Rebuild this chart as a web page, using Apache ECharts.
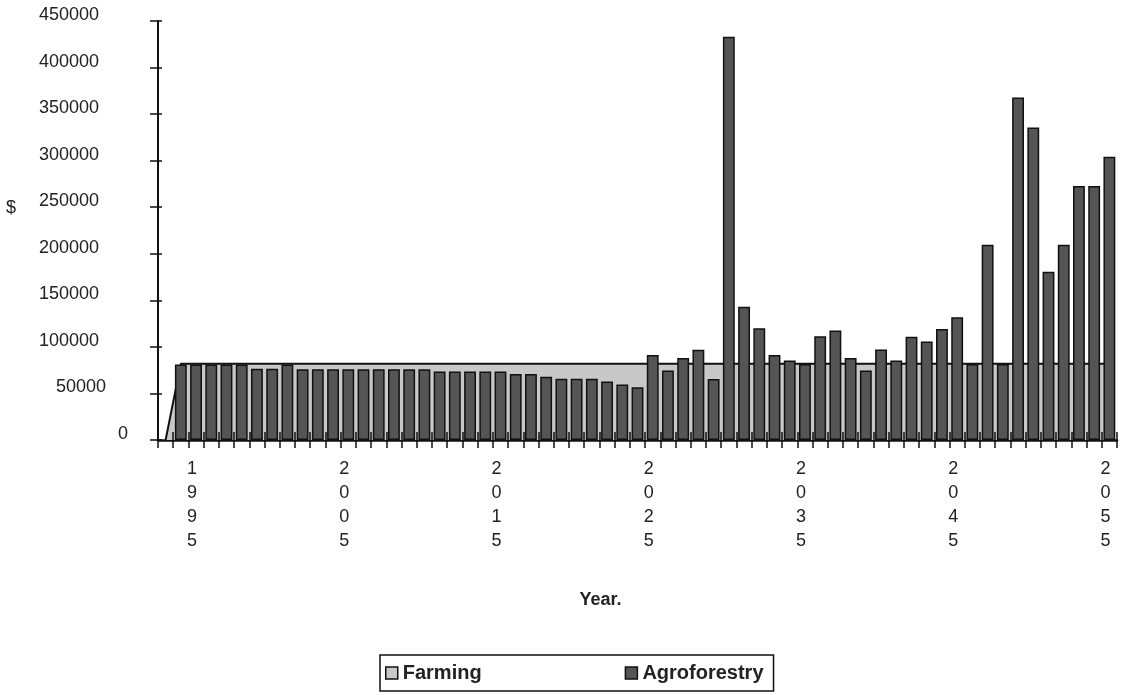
<!DOCTYPE html>
<html><head><meta charset="utf-8">
<script src="https://cdn.jsdelivr.net/npm/echarts@6/dist/echarts.min.js"></script>
<style>html,body{margin:0;padding:0;background:#fff}#c{width:1129px;height:695px}</style>
</head><body><div id="c"></div>
<script>
const years = ['1993','1994','1995','1996','1997','1998','1999','2000','2001','2002','2003','2004','2005','2006','2007','2008','2009','2010','2011','2012','2013','2014','2015','2016','2017','2018','2019','2020','2021','2022','2023','2024','2025','2026','2027','2028','2029','2030','2031','2032','2033','2034','2035','2036','2037','2038','2039','2040','2041','2042','2043','2044','2045','2046','2047','2048','2049','2050','2051','2052','2053','2054','2055'];

const farming = [0,82000,82000,82000,82000,82000,82000,82000,82000,82000,82000,82000,82000,82000,82000,82000,82000,82000,82000,82000,82000,82000,82000,82000,82000,82000,82000,82000,82000,82000,82000,82000,82000,82000,82000,82000,82000,82000,82000,82000,82000,82000,82000,82000,82000,82000,82000,82000,82000,82000,82000,82000,82000,82000,82000,82000,82000,82000,82000,82000,82000,82000,82000];

const agroforestry = [null,81000,81000,81000,81000,81000,76500,76500,81000,76000,76000,76000,76000,76000,76000,76000,76000,76000,73500,73500,73500,73500,73500,71000,71000,68000,65700,65700,65700,62800,59500,56700,
91400,74600,88200,96800,65600,433000,143200,120000,91400,85300,81700,111400,117500,88200,74600,97100,85300,111000,105700,119300,131800,81700,209800,81700,367800,335600,180800,209800,272700,272700,304200];

const yTicks = ['0','50000','100000','150000','200000','250000','300000','350000','400000','450000'];

const chart = echarts.init(document.getElementById('c'));
const FONT = 'Liberation Sans, Arial, sans-serif';
chart.setOption({
  animation: false,
  backgroundColor: '#fff',
  grid: { left: 158, right: 12, top: 21, bottom: 255 },
  graphic: [{ type: 'text', left: 6, top: 199, style: { text: '$', font: '18px ' + FONT, fill: '#222' } }],
  legend: {
    left: 380, top: 655,
    orient: 'horizontal',
    borderColor: '#111', borderWidth: 1.5,
    padding: [8, 10, 8, 5],
    itemWidth: 12, itemHeight: 12, itemGap: 143,
    textStyle: { fontFamily: FONT, fontWeight: 'bold', fontSize: 20, color: '#222' },
    data: [
      { name: 'Farming', icon: 'rect', itemStyle: { color: '#c8c8c8', borderColor: '#111', borderWidth: 1.5 } },
      { name: 'Agroforestry', icon: 'rect', itemStyle: { color: '#555', borderColor: '#111', borderWidth: 1.5 } }
    ]
  },
  xAxis: [{
    type: 'category', data: years, boundaryGap: true,
    name: 'Year.', nameLocation: 'middle', nameGap: 151,
    nameTextStyle: { fontFamily: FONT, fontWeight: 'bold', fontSize: 18, color: '#222', padding: [0, 74, 0, 0] },
    axisLine: { lineStyle: { color: '#111', width: 2.5 } },
    axisTick: { show: true, interval: 0, length: 8, lineStyle: { color: '#111', width: 1.5 } },
    axisLabel: {
      interval: function (idx, val) { return (Number(val) - 1995) % 10 === 0; },
      formatter: function (v) { return v.split('').join('\n'); },
      fontFamily: FONT, fontSize: 18, color: '#222', lineHeight: 24, margin: 17,
      padding: [0, 8, 0, 0]
    },
    splitLine: { show: false }
  }, {
    type: 'category', data: years, boundaryGap: true, position: 'bottom', z: 10,
    axisLine: { show: false },
    axisTick: { show: true, inside: true, interval: 0, length: 8, lineStyle: { color: '#111', width: 1.5 } },
    axisLabel: { show: false }, splitLine: { show: false }
  }],
  yAxis: [{
    type: 'value', min: 0, max: 450000, interval: 50000,
    axisLine: { show: true, lineStyle: { color: '#111', width: 2 } },
    axisTick: { show: true, length: 8, lineStyle: { color: '#111', width: 1.5 } },
    splitLine: { show: false },
    axisLabel: {
      margin: 30,
      formatter: function (v) {
        const s = yTicks[Math.round(v / 50000)];
        if (v === 0) return '{z|' + s + '}';
        if (v === 50000) return '{f|' + s + '}';
        return '{a|' + s + '}';
      },
      rich: {
        z: { fontFamily: FONT, fontSize: 18, color: '#222', padding: [0, 0, 12, 0] },
        f: { fontFamily: FONT, fontSize: 18, color: '#222', padding: [0, 22, 12, 0] },
        a: { fontFamily: FONT, fontSize: 18, color: '#222', padding: [0, 29, 12, 0] }
      }
    }
  }, {
    type: 'value', min: 0, max: 450000, interval: 50000, position: 'left', z: 10,
    axisLine: { show: false },
    axisTick: { show: true, inside: true, length: 4, lineStyle: { color: '#111', width: 1.5 } },
    axisLabel: { show: false }, splitLine: { show: false }
  }],
  series: [{
    name: 'Farming', type: 'line', data: farming, xAxisIndex: 0, yAxisIndex: 0,
    symbol: 'none', z: 2,
    itemStyle: { color: '#c8c8c8', borderColor: '#111' },
    lineStyle: { color: '#111', width: 2 },
    areaStyle: { color: '#c8c8c8', opacity: 1 }
  }, {
    name: 'Agroforestry', type: 'bar', data: agroforestry, xAxisIndex: 0, yAxisIndex: 0,
    z: 3, barCategoryGap: '22%',
    itemStyle: { color: '#555', borderColor: '#111', borderWidth: 1.5 }
  }]
});
</script></body></html>
